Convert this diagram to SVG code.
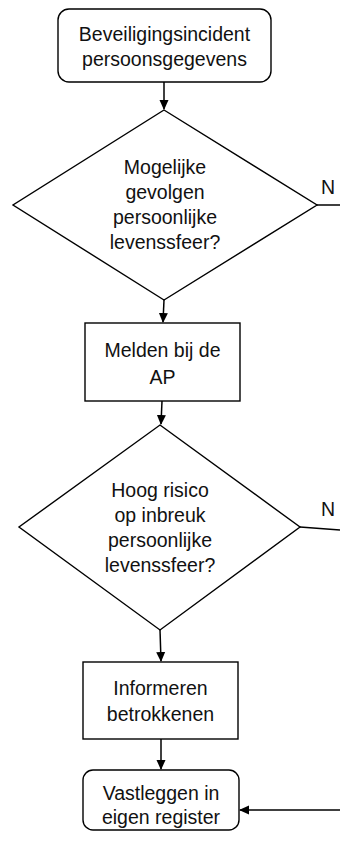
<svg xmlns="http://www.w3.org/2000/svg" width="340" height="841" viewBox="0 0 340 841">
<style>
.shape{fill:#fff;stroke:#000;stroke-width:1.4}
.lbl{font-family:"Liberation Sans",Arial,sans-serif;font-size:19.5px;fill:#111;text-anchor:middle}
.conn{fill:none;stroke:#000;stroke-width:1.5}
</style>
<defs>
<marker id="ah" markerWidth="10" markerHeight="10" refX="9" refY="5" orient="auto" markerUnits="userSpaceOnUse">
<path d="M0,0.5 L10,5 L0,9.5 Z" fill="#000"/>
</marker>
</defs>
<g id="connectors">
<line class="conn" x1="164" y1="82" x2="164" y2="109" marker-end="url(#ah)"/>
<line class="conn" x1="164" y1="300" x2="163" y2="322" marker-end="url(#ah)"/>
<line class="conn" x1="317" y1="205" x2="340" y2="205"/>
<line class="conn" x1="162" y1="401" x2="161" y2="424" marker-end="url(#ah)"/>
<line class="conn" x1="300" y1="527" x2="340" y2="530"/>
<line class="conn" x1="160" y1="630" x2="161" y2="661" marker-end="url(#ah)"/>
<line class="conn" x1="161" y1="739" x2="161" y2="769" marker-end="url(#ah)"/>
<line class="conn" x1="340" y1="810" x2="240" y2="810" marker-end="url(#ah)"/>
<text class="lbl" x="328" y="194">N</text>
<text class="lbl" x="328" y="516">N</text>
</g>
<g id="start">
<rect class="shape" x="58" y="9" width="213" height="73" rx="11"/>
<text class="lbl" x="164.5" y="41">Beveiligingsincident</text>
<text class="lbl" x="164.5" y="66">persoonsgegevens</text>
</g>
<g id="decision1">
<polygon class="shape" points="164,110 317,205 164,300 13,205"/>
<text class="lbl" x="165" y="174">Mogelijke</text>
<text class="lbl" x="165" y="199">gevolgen</text>
<text class="lbl" x="165" y="224">persoonlijke</text>
<text class="lbl" x="165" y="249">levenssfeer?</text>
</g>
<g id="melden">
<rect class="shape" x="85" y="323" width="155" height="78"/>
<text class="lbl" x="162.5" y="357">Melden bij de</text>
<text class="lbl" x="162.5" y="384">AP</text>
</g>
<g id="decision2">
<polygon class="shape" points="160,425 300,527 160,630 19,527"/>
<text class="lbl" x="160" y="497">Hoog risico</text>
<text class="lbl" x="160" y="522">op inbreuk</text>
<text class="lbl" x="160" y="547">persoonlijke</text>
<text class="lbl" x="160" y="572">levenssfeer?</text>
</g>
<g id="informeren">
<rect class="shape" x="83" y="662" width="155" height="77"/>
<text class="lbl" x="160.5" y="695">Informeren</text>
<text class="lbl" x="160.5" y="721">betrokkenen</text>
</g>
<g id="vastleggen">
<rect class="shape" x="83" y="770" width="156" height="60" rx="10"/>
<text class="lbl" x="161" y="800">Vastleggen in</text>
<text class="lbl" x="161" y="824">eigen register</text>
</g>
</svg>
